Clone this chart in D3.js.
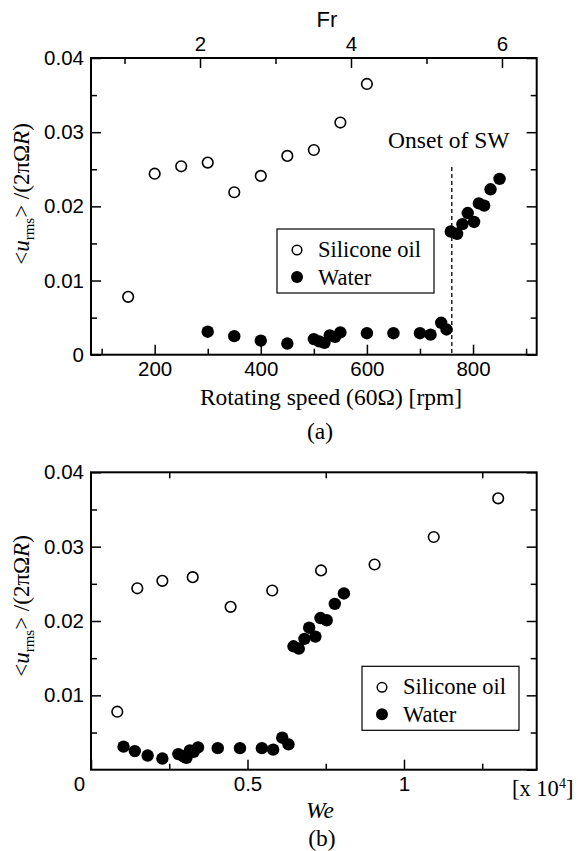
<!DOCTYPE html>
<html>
<head>
<meta charset="utf-8">
<title>u_rms vs rotating speed and We</title>
<script src="https://d3js.org/d3.v7.min.js"></script>
<style>
  body { margin: 0; background: #fff; }
  svg { display: block; }
  .tick text { font-family: Arial, "Liberation Sans", sans-serif; font-size: 20.5px; fill: #000; }
  .tick line { stroke: #000; stroke-width: 1.5px; }
  .serif { font-family: "Liberation Serif", "Times New Roman", serif; font-size: 22.5px; fill: #000; }
  .title { font-size: 23.5px; }
  .sans { font-family: Arial, "Liberation Sans", sans-serif; fill: #000; }
  .frame { fill: none; stroke: #000; stroke-width: 2px; }
</style>
</head>
<body>
<div id="chart"></div>
<script>
// silicone oil (open circles)
var siliconeRpm = [150, 200, 250, 300, 350, 400, 450, 500, 550, 600];
var siliconeWe = [0.084, 0.148, 0.228, 0.325, 0.446, 0.579, 0.735, 0.906, 1.095, 1.301];
var siliconeU = [0.0078, 0.0244, 0.0254, 0.0259, 0.0219, 0.0241, 0.0268, 0.0276, 0.0313, 0.0365];

// water (filled circles)
var waterRpm = [300, 350, 400, 450, 500, 510, 520, 530, 540, 550, 600, 650, 700, 720, 740, 750,
                758, 770, 780, 790, 802, 811, 821, 833, 850];
var waterWe = [0.104, 0.140, 0.181, 0.228, 0.279, 0.295, 0.305, 0.316, 0.328, 0.342, 0.405, 0.476, 0.546, 0.582, 0.611, 0.631,
               0.647, 0.664, 0.682, 0.697, 0.717, 0.733, 0.753, 0.779, 0.808];
var waterU = [0.0031, 0.0025, 0.0019, 0.0015, 0.0021, 0.0018, 0.0016, 0.0026, 0.0024, 0.0030, 0.0029, 0.0029, 0.0029, 0.0027, 0.0043, 0.0034,
              0.0166, 0.0163, 0.0176, 0.0191, 0.0179, 0.0204, 0.0201, 0.0223, 0.0237];

// ticks
var rpmMajor = [200, 400, 600, 800], rpmMinor = [100, 300, 500, 700, 900];
var frMajor = [2, 4, 6], frMinor = [1, 3, 5];
var weMajor = [0, 0.5, 1], weMinor = [0.25, 0.75, 1.25];
var uMajor = [0, 0.01, 0.02, 0.03, 0.04], uMinor = [0.005, 0.015, 0.025, 0.035];
var onsetRpm = 760;

var width = 578, height = 851;
var left = 91, plotW = 445.7;

var svg = d3.select("#chart").append("svg")
    .attr("width", width)
    .attr("height", height);

/* ticks pointing inwards, major + minor */
function ticks(g, axisFn, scale, major, minor, labels, tr) {
    var a = g.append("g").attr("transform", tr)
        .call(axisFn(scale).tickValues(major).tickSize(-10).tickPadding(labels ? 7 : 0)
            .tickFormat(labels ? d3.format("") : ""));
    a.select(".domain").remove();
    var b = g.append("g").attr("transform", tr)
        .call(axisFn(scale).tickValues(minor).tickSize(-6).tickFormat(""));
    b.select(".domain").remove();
    return a;
}

function yLabel(x, y) {
    var t = svg.append("text")
        .attr("class", "serif")
        .style("font-size", "23px")
        .attr("text-anchor", "middle")
        .attr("transform", "translate(" + x + "," + y + ") rotate(-90)");
    t.append("tspan").text("<");
    t.append("tspan").style("font-style", "italic").text("u");
    t.append("tspan").attr("dy", 5).style("font-size", "15px").text("rms");
    t.append("tspan").attr("dy", -5).text("> /(2πΩ");
    t.append("tspan").style("font-style", "italic").text("R");
    t.append("tspan").text(")");
}

function points(g, xs, ys, xv, uv, open) {
    g.append("g").selectAll("circle")
        .data(xv.map(function(d, i) { return [d, uv[i]]; }))
        .enter().append("circle")
        .attr("cx", function(d) { return xs(d[0]); })
        .attr("cy", function(d) { return ys(d[1]); })
        .attr("r", open ? 5.3 : 6.2)
        .attr("fill", open ? "#fff" : "#000")
        .attr("stroke", "#000")
        .attr("stroke-width", open ? 1.6 : 0);
}

function legend(g, x, y) {
    var lg = g.append("g").attr("transform", "translate(" + x + "," + y + ")");
    lg.append("rect").attr("width", 157).attr("height", 64)
        .attr("fill", "#fff").attr("stroke", "#000").attr("stroke-width", 1.2);
    lg.append("circle").attr("cx", 20).attr("cy", 21).attr("r", 4.8)
        .attr("fill", "#fff").attr("stroke", "#000").attr("stroke-width", 1.5);
    lg.append("circle").attr("cx", 20).attr("cy", 48).attr("r", 6).attr("fill", "#000");
    lg.append("text").attr("class", "serif").attr("x", 41).attr("y", 28).text("Silicone oil");
    lg.append("text").attr("class", "serif").attr("x", 41).attr("y", 56).text("Water");
}

/* ---- (a) ---- */
var topA = 58, hA = 296.7;
var xA = d3.scaleLinear().domain([80, 920]).range([0, plotW]);
var frA = d3.scaleLinear().domain([0.556, 6.46]).range([0, plotW]);
var yA = d3.scaleLinear().domain([0, 0.04]).range([hA, 0]);
var gA = svg.append("g").attr("transform", "translate(" + left + "," + topA + ")");

ticks(gA, d3.axisBottom, xA, rpmMajor, rpmMinor, true, "translate(0," + hA + ")");
ticks(gA, d3.axisTop, frA, frMajor, frMinor, true, "translate(0,0)")
    .selectAll("text").attr("dy", 0);
ticks(gA, d3.axisLeft, yA, uMajor, uMinor, true, "translate(0,0)");
ticks(gA, d3.axisRight, yA, uMajor, uMinor, false, "translate(" + plotW + ",0)");
gA.append("rect").attr("class", "frame").attr("width", plotW).attr("height", hA);

gA.append("line")
    .attr("x1", xA(onsetRpm)).attr("x2", xA(onsetRpm))
    .attr("y1", yA(0.0253)).attr("y2", yA(0))
    .attr("stroke", "#000").attr("stroke-width", 1.3)
    .attr("stroke-dasharray", "4,3");
gA.append("text").attr("class", "serif title").attr("text-anchor", "middle")
    .attr("x", xA(onsetRpm) - 3).attr("y", yA(0.0279)).text("Onset of SW");

points(gA, xA, yA, siliconeRpm, siliconeU, true);
points(gA, xA, yA, waterRpm, waterU, false);
legend(gA, 186, 171);

svg.append("text").attr("class", "sans").style("font-size", "22px")
    .attr("text-anchor", "middle").attr("x", 327).attr("y", 27).text("Fr");
svg.append("text").attr("class", "serif title").attr("text-anchor", "middle")
    .attr("x", 331).attr("y", 405).text("Rotating speed (60Ω) [rpm]");
svg.append("text").attr("class", "serif title").attr("text-anchor", "middle")
    .attr("x", 320).attr("y", 439).text("(a)");
yLabel(29, 194);

/* ---- (b) ---- */
var topB = 472.3, hB = 297.4;
var xB = d3.scaleLinear().domain([0, 1.424]).range([0, plotW]);
var yB = d3.scaleLinear().domain([0, 0.04]).range([hB, 0]);
var gB = svg.append("g").attr("transform", "translate(" + left + "," + topB + ")");

ticks(gB, d3.axisBottom, xB, weMajor, weMinor, true, "translate(0," + hB + ")")
    .selectAll(".tick").filter(function(d) { return d === 0; })
    .select("text").attr("dx", -12);
ticks(gB, d3.axisTop, xB, [], weMinor, false, "translate(0,0)");
ticks(gB, d3.axisLeft, yB, uMajor.slice(1), uMinor, true, "translate(0,0)");
ticks(gB, d3.axisRight, yB, uMajor, uMinor, false, "translate(" + plotW + ",0)");
gB.append("rect").attr("class", "frame").attr("width", plotW).attr("height", hB);

points(gB, xB, yB, siliconeWe, siliconeU, true);
points(gB, xB, yB, waterWe, waterU, false);
legend(gB, 271, 194);

var xl = svg.append("text").attr("class", "serif").attr("x", 512).attr("y", 796);
xl.append("tspan").text("[x 10");
xl.append("tspan").attr("dy", -8).style("font-size", "14px").text("4");
xl.append("tspan").attr("dy", 8).text("]");
svg.append("text").attr("class", "serif title").style("font-style", "italic")
    .attr("text-anchor", "middle").attr("x", 320).attr("y", 818).text("We");
svg.append("text").attr("class", "serif title").attr("text-anchor", "middle")
    .attr("x", 322).attr("y", 846).text("(b)");
yLabel(29, 606);
</script>
</body>
</html>
